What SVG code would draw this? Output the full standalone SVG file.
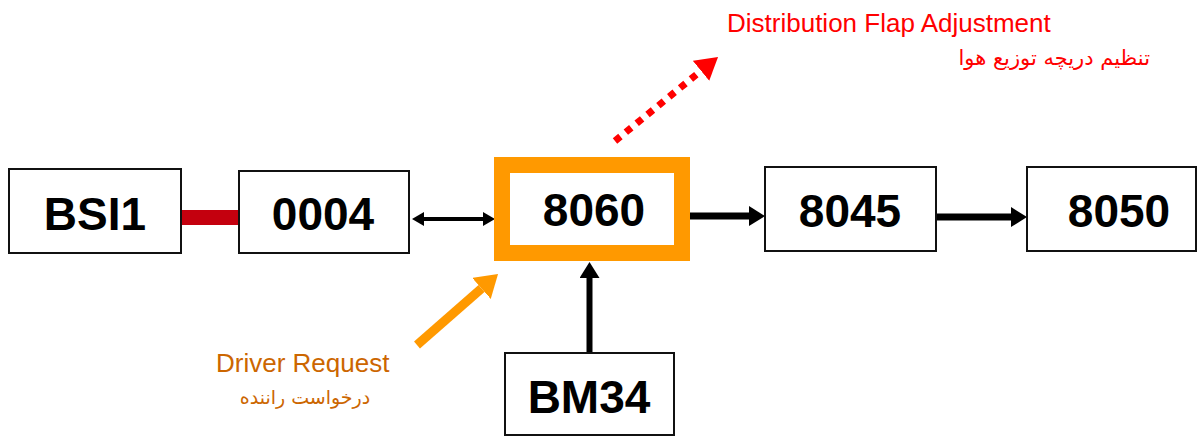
<svg xmlns="http://www.w3.org/2000/svg" width="1197" height="437" viewBox="0 0 1197 437">
<style>
.box{fill:#fff;stroke:#111;stroke-width:2}
.lbl{font-family:"Liberation Sans",Arial,sans-serif;font-weight:bold;font-size:46px;fill:#000;text-anchor:middle}
.conn{fill:none;stroke:#000}
.en{font-family:"Liberation Sans",Arial,sans-serif;font-size:26px}
.fa{font-family:"DejaVu Sans","Noto Sans",sans-serif}
</style>
<defs>
<marker id="hb" markerUnits="userSpaceOnUse" markerWidth="16" markerHeight="20" refX="0" refY="10" orient="auto" viewBox="0 0 16 20"><path d="M0,0 L16,10 L0,20 z" fill="#000"/></marker>
<marker id="hs" markerUnits="userSpaceOnUse" markerWidth="12" markerHeight="14" refX="0" refY="7" orient="auto-start-reverse" viewBox="0 0 12 14"><path d="M0,0 L12,7 L0,14 z" fill="#000"/></marker>
<marker id="ho" markerUnits="userSpaceOnUse" markerWidth="22" markerHeight="28" refX="0" refY="14" orient="auto" viewBox="0 0 22 28"><path d="M0,0 L22,14 L0,28 z" fill="#ff9900"/></marker>
<marker id="hr" markerUnits="userSpaceOnUse" markerWidth="22" markerHeight="26" refX="0" refY="13" orient="auto" viewBox="0 0 22 26"><path d="M0,0 L22,13 L0,26 z" fill="#ff0000"/></marker>
</defs>
<rect width="1197" height="437" fill="#fff"/>
<g id="connectors">
<line x1="181" y1="217.5" x2="239" y2="217.5" stroke="#c4000e" stroke-width="15"/>
<line class="conn" x1="424" y1="219" x2="483" y2="219" stroke-width="4" marker-start="url(#hs)" marker-end="url(#hs)"/>
<line class="conn" x1="690" y1="216" x2="749" y2="216" stroke-width="7" marker-end="url(#hb)"/>
<line class="conn" x1="937" y1="217" x2="1011" y2="217" stroke-width="7" marker-end="url(#hb)"/>
<line class="conn" x1="589.5" y1="353" x2="589.5" y2="278" stroke-width="6" marker-end="url(#hb)"/>
<line x1="417" y1="345" x2="481.5" y2="288.5" stroke="#ff9900" stroke-width="9" marker-end="url(#ho)"/>
<line x1="615" y1="141" x2="701" y2="70.8" stroke="#ff0000" stroke-width="7" stroke-dasharray="7 7" marker-end="url(#hr)"/>
</g>
<g id="BSI1"><rect class="box" x="9" y="169" width="172" height="84"/><text class="lbl" x="95" y="230">BSI1</text></g>
<g id="n0004"><rect class="box" x="239" y="171" width="170" height="82"/><text class="lbl" x="323" y="230">0004</text></g>
<g id="n8060"><rect x="502" y="165" width="180" height="88" fill="#fff" stroke="#ff9900" stroke-width="16"/><text class="lbl" x="594" y="226">8060</text></g>
<g id="n8045"><rect class="box" x="765" y="167" width="171" height="84"/><text class="lbl" x="850" y="227">8045</text></g>
<g id="n8050"><rect class="box" x="1027" y="167" width="169" height="84"/><text class="lbl" x="1119" y="227">8050</text></g>
<g id="BM34"><rect class="box" x="505" y="353" width="169" height="82"/><text class="lbl" x="589" y="413">BM34</text></g>
<g id="distribution">
<text class="en" x="727" y="32" fill="#ff0000">Distribution Flap Adjustment</text>
<text class="fa" x="1150" y="65" font-size="21" fill="#ff0000" text-anchor="end">تنظیم دریچه توزیع هوا</text>
</g>
<g id="driver">
<text class="en" x="216" y="372" fill="#cc6600">Driver Request</text>
<text class="fa" x="305" y="404" font-size="19" fill="#cc6600" text-anchor="middle">درخواست راننده</text>
</g>
</svg>
